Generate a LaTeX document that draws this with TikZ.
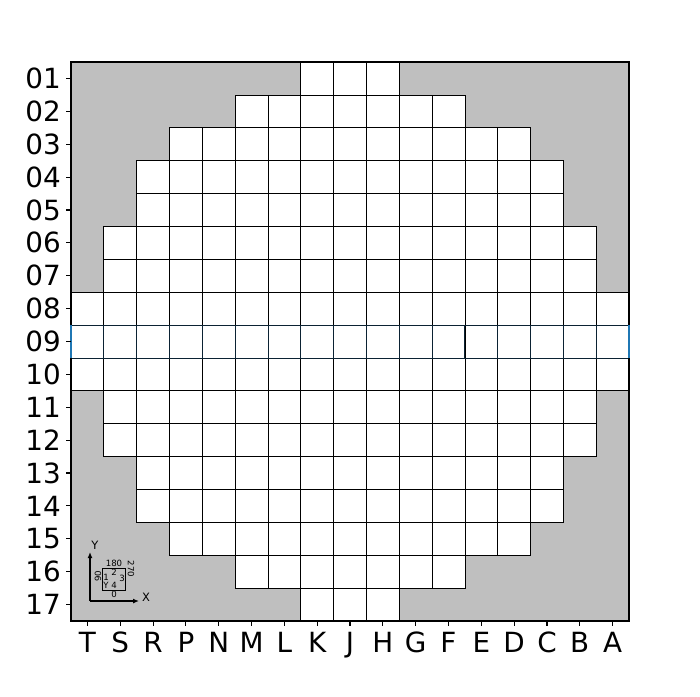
\documentclass[tikz,border=0pt]{standalone}
\usepackage{fontspec}
\setmainfont{DejaVu Sans}
\usetikzlibrary{arrows.meta}
\definecolor{coregray}{HTML}{BFBFBF}
\definecolor{rowline}{HTML}{0B2233}
\definecolor{rowedge}{HTML}{1F77B4}
\tikzset{
  cell/.style={draw=black, line width=0.7pt, fill=white},
  hicell/.style={draw=rowline, line width=0.8pt},
  spine/.style={draw=black, line width=1.1pt},
  tick/.style={draw=black, line width=1.1pt},
  ticklbl/.style={font=\fontsize{27.8}{30}\selectfont, inner sep=0pt},
  tinylbl/.style={font=\fontsize{8.6}{9}\selectfont, inner sep=0pt},
  axarrow/.style={-{Latex[length=6pt,width=5pt]}, line width=1.4pt}
}

\begin{document}
\begin{tikzpicture}[x=1pt, y=-1pt]

\useasboundingbox (0,0) rectangle (700,696);

% plot area
\def\xo{71}
\def\yo{62}
\def\cw{32.824}
\def\ch{32.882}
\fill[coregray] (71,62) rectangle (629,621);

% fuel cells, first/last column per row
\foreach \a/\b [count=\r from 0] in {7/9,5/11,3/13,2/14,2/14,1/15,1/15,0/16,0/16,0/16,1/15,1/15,2/14,2/14,3/13,5/11,7/9}{
  \foreach \c in {\a,...,\b}{
    \draw[cell] ({\xo+\c*\cw},{\yo+\r*\ch}) rectangle ++(\cw,\ch);
  }
}

% highlighted row 09
\foreach \c in {0,...,16}{
  \draw[hicell] ({\xo+\c*\cw},{\yo+8*\ch}) rectangle ++(\cw,\ch);
}

% axes frame
\draw[spine] (71,62) rectangle (629,621);
\draw[draw=rowedge, line width=1.4pt] (71,{\yo+8*\ch}) -- ++(0,\ch);
\draw[draw=rowedge, line width=1.4pt] (629,{\yo+8*\ch}) -- ++(0,\ch);

% row labels
\foreach \lbl [count=\r from 0] in {01,02,03,04,05,06,07,08,09,10,11,12,13,14,15,16,17}{
  \draw[tick] (71,{\yo+(\r+0.5)*\ch}) -- ++(-5,0);
  \node[ticklbl, anchor=east] (row\lbl) at (61,{\yo+(\r+0.5)*\ch}) {\lbl};
}

% column labels
\foreach \lbl [count=\c from 0] in {T,S,R,P,N,M,L,K,J,H,G,F,E,D,C,B,A}{
  \draw[tick] ({\xo+(\c+0.5)*\cw},621) -- ++(0,5);
  \node[ticklbl, anchor=north] (col\lbl) at ({\xo+(\c+0.5)*\cw},632) {\lbl};
}

% orientation key
\coordinate (origin) at (90,601);
\coordinate (ytip) at (90,552);
\coordinate (xtip) at (139,601);
\draw[axarrow] (origin) -- (ytip);
\draw[axarrow] (origin) -- (xtip);
\node[font=\fontsize{11.5}{12}\selectfont, inner sep=0pt] (ylbl) at (95,545) {Y};
\node[font=\fontsize{11.5}{12}\selectfont, inner sep=0pt] (xlbl) at (146,597) {X};
\draw[black, line width=0.8pt] (102,568) rectangle (125,590);
\node[tinylbl] (deg180) at (114,563) {180};
\node[tinylbl, rotate=-90] (deg270) at (131,569) {270};
\node[tinylbl, rotate=90] (deg90) at (98,576) {90};
\node[tinylbl] (deg0) at (114,594) {0};
\node[tinylbl] (q2) at (114,572) {2};
\node[tinylbl] (q1) at (106,577) {1};
\node[tinylbl] (q3) at (122,578) {3};
\node[tinylbl] (qy) at (106,585.5) {Y};
\node[tinylbl] (q4) at (114,585.5) {4};

\end{tikzpicture}
\end{document}
